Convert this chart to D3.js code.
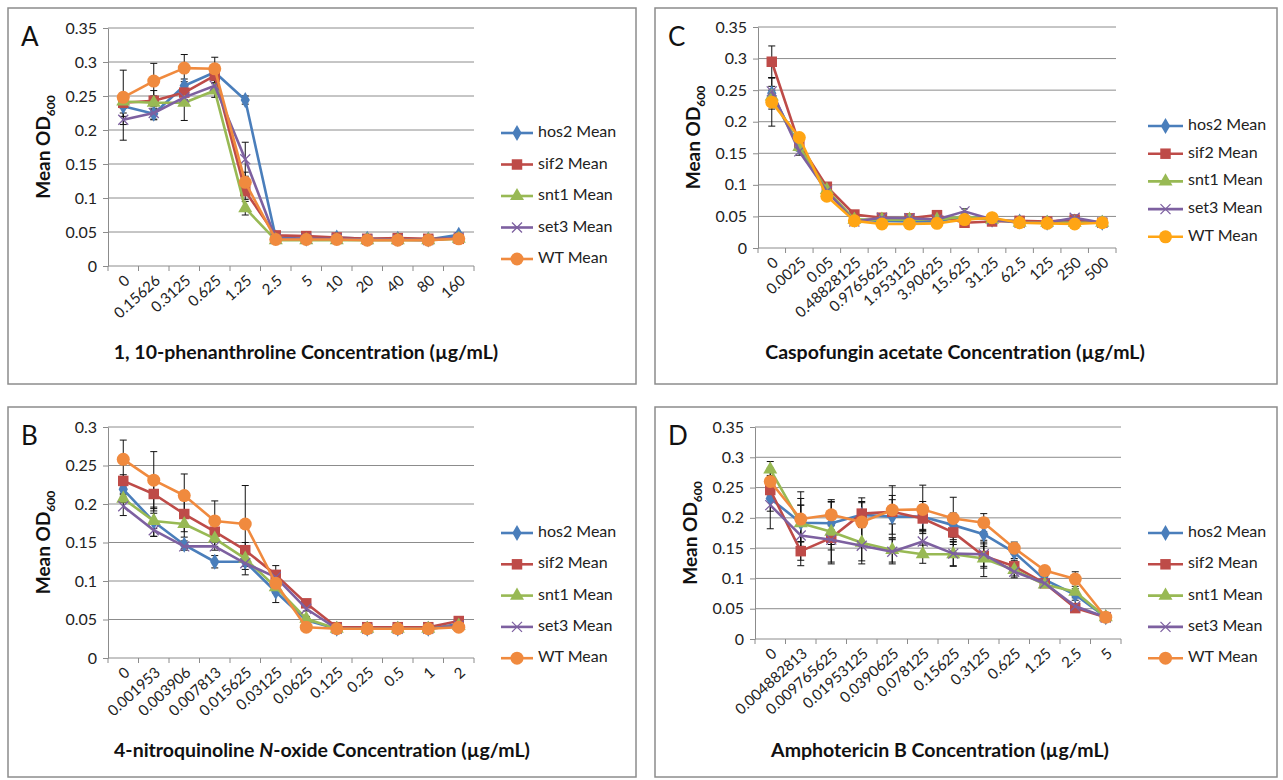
<!DOCTYPE html>
<html>
<head>
<meta charset="utf-8">
<script src="https://cdn.jsdelivr.net/npm/d3@7"></script>
<style>
body { margin: 0; background: #fff; }
svg { font-family: Lato, "Open Sans", sans-serif; font-variant-ligatures: none; }
</style>
</head>
<body>
<script>
// series names and colours
var seriesNames = ["hos2 Mean", "sif2 Mean", "snt1 Mean", "set3 Mean", "WT Mean"];

// A: 1,10-phenanthroline
var catsA = ["0","0.15626","0.3125","0.625","1.25","2.5","5","10","20","40","80","160"];
var hos2A = [0.235,0.224,0.265,0.285,0.244,0.042,0.040,0.042,0.040,0.040,0.039,0.046];
var sif2A = [0.240,0.243,0.255,0.280,0.110,0.045,0.044,0.042,0.040,0.041,0.040,0.040];
var snt1A = [0.242,0.240,0.240,0.258,0.085,0.038,0.038,0.038,0.038,0.038,0.038,0.040];
var set3A = [0.215,0.225,0.248,0.265,0.157,0.040,0.040,0.040,0.039,0.039,0.038,0.042];
var wtA   = [0.248,0.272,0.291,0.290,0.123,0.039,0.039,0.039,0.038,0.038,0.038,0.040];
var errHos2A = [0.015,0.008,0.010,0.008,0.006,0.002,0.002,0.002,0.002,0.002,0.002,0.003];
var errSif2A = [0.015,0.015,0.010,0.010,0.012,0.002,0.002,0.002,0.002,0.002,0.002,0.002];
var errSnt1A = [0.010,0.010,0.026,0.010,0.010,0.002,0.002,0.002,0.002,0.002,0.002,0.002];
var errSet3A = [0.030,0.010,0.010,0.010,0.025,0.002,0.002,0.002,0.002,0.002,0.002,0.002];
var errWtA   = [0.040,0.026,0.020,0.017,0.015,0.002,0.002,0.002,0.002,0.002,0.002,0.002];

// B: 4-nitroquinoline N-oxide
var catsB = ["0","0.001953","0.003906","0.007813","0.015625","0.03125","0.0625","0.125","0.25","0.5","1","2"];
var hos2B = [0.219,0.177,0.147,0.125,0.125,0.086,0.049,0.038,0.038,0.038,0.038,0.044];
var sif2B = [0.230,0.213,0.187,0.164,0.140,0.108,0.071,0.040,0.040,0.040,0.040,0.048];
var snt1B = [0.207,0.178,0.174,0.155,0.129,0.092,0.051,0.038,0.038,0.038,0.038,0.042];
var set3B = [0.197,0.166,0.145,0.145,0.123,0.105,0.064,0.038,0.038,0.038,0.038,0.042];
var wtB   = [0.258,0.231,0.211,0.178,0.174,0.097,0.040,0.038,0.038,0.038,0.038,0.040];
var errHos2B = [0.005,0.019,0.005,0.008,0.010,0.014,0.004,0.002,0.002,0.002,0.002,0.002];
var errSif2B = [0.008,0.022,0.030,0.010,0.010,0.012,0.003,0.002,0.002,0.002,0.002,0.002];
var errSnt1B = [0.005,0.010,0.010,0.010,0.010,0.008,0.003,0.002,0.002,0.002,0.002,0.002];
var errSet3B = [0.012,0.008,0.005,0.005,0.015,0.008,0.003,0.002,0.002,0.002,0.002,0.002];
var errWtB   = [0.025,0.037,0.028,0.026,0.050,0.010,0.003,0.002,0.002,0.002,0.002,0.002];

// C: caspofungin acetate
var catsC = ["0","0.0025","0.05","0.48828125","0.9765625","1.953125","3.90625","15.625","31.25","62.5","125","250","500"];
var hos2C = [0.245,0.160,0.090,0.045,0.043,0.042,0.042,0.050,0.045,0.042,0.040,0.042,0.040];
var sif2C = [0.295,0.165,0.097,0.053,0.048,0.047,0.052,0.040,0.042,0.043,0.042,0.045,0.040];
var snt1C = [0.240,0.160,0.092,0.045,0.045,0.045,0.045,0.050,0.045,0.040,0.040,0.040,0.040];
var set3C = [0.248,0.153,0.090,0.042,0.048,0.047,0.045,0.058,0.045,0.040,0.040,0.048,0.040];
var wtC   = [0.231,0.175,0.082,0.043,0.038,0.038,0.039,0.045,0.048,0.040,0.039,0.038,0.040];
var errHos2C = [0.025,0.006,0.004,0.002,0.002,0.002,0.002,0.003,0.002,0.002,0.002,0.002,0.002];
var errSif2C = [0.025,0.006,0.004,0.002,0.002,0.002,0.002,0.002,0.002,0.002,0.002,0.002,0.002];
var errSnt1C = [0.010,0.006,0.004,0.002,0.002,0.002,0.002,0.002,0.002,0.002,0.002,0.002,0.002];
var errSet3C = [0.008,0.006,0.004,0.002,0.002,0.002,0.002,0.004,0.002,0.002,0.002,0.004,0.002];
var errWtC   = [0.038,0.006,0.004,0.002,0.002,0.002,0.002,0.002,0.002,0.002,0.002,0.002,0.002];

// D: amphotericin B
var catsD = ["0","0.004882813","0.009765625","0.01953125","0.0390625","0.078125","0.15625","0.3125","0.625","1.25","2.5","5"];
var hos2D = [0.232,0.192,0.191,0.205,0.202,0.202,0.188,0.173,0.143,0.098,0.073,0.036];
var sif2D = [0.246,0.145,0.167,0.207,0.210,0.199,0.176,0.137,0.120,0.092,0.051,0.036];
var snt1D = [0.280,0.191,0.177,0.159,0.147,0.140,0.140,0.133,0.114,0.090,0.078,0.036];
var set3D = [0.221,0.171,0.164,0.154,0.144,0.161,0.141,0.140,0.111,0.092,0.054,0.036];
var wtD   = [0.260,0.198,0.205,0.193,0.213,0.214,0.199,0.192,0.150,0.113,0.099,0.036];
var errHos2D = [0.050,0.040,0.035,0.020,0.035,0.025,0.020,0.020,0.010,0.005,0.005,0.002];
var errSif2D = [0.010,0.015,0.020,0.020,0.020,0.020,0.020,0.020,0.010,0.005,0.005,0.002];
var errSnt1D = [0.013,0.030,0.050,0.030,0.020,0.015,0.020,0.030,0.010,0.005,0.005,0.002];
var errSet3D = [0.010,0.050,0.040,0.030,0.020,0.020,0.020,0.020,0.010,0.005,0.010,0.002];
var errWtD   = [0.010,0.045,0.025,0.040,0.040,0.040,0.035,0.015,0.010,0.005,0.012,0.002];

var width = 1283, height = 780;

var svg = d3.select("body")
    .append("svg")
    .attr("width", width)
    .attr("height", height);

var markerTypes = ["diamond", "square", "triangle", "cross", "circle"];

function drawMarker(sel, type, color) {
    if (type == "circle") {
        sel.append("circle").attr("r", 6.5).attr("fill", color);
    } else if (type == "cross") {
        sel.append("path").attr("d", "M-5,-5L5,5M-5,5L5,-5")
            .attr("stroke", color).attr("stroke-width", 1.3).attr("fill", "none");
    } else {
        var sym = type == "diamond" ? d3.symbolDiamond : type == "square" ? d3.symbolSquare : d3.symbolTriangle;
        var size = type == "diamond" ? 75 : type == "square" ? 110 : 85;
        sel.append("path").attr("d", d3.symbol(sym, size)()).attr("fill", color);
    }
}

function drawPanel(p) {
    var g = svg.append("g");

    //panel frame
    g.append("rect")
        .attr("x", p.fx).attr("y", p.fy)
        .attr("width", p.fw).attr("height", p.fh)
        .attr("fill", "#fff").attr("stroke", "#8c8c8c").attr("stroke-width", 1.5);

    var x = d3.scaleBand().domain(p.cats).range([p.px, p.px + p.pw]);
    var y = d3.scaleLinear().domain([0, p.yMax]).range([p.py + p.ph, p.py]);
    var yTicks = d3.range(0, p.yMax + 1e-9, 0.05);
    var cx = function(i) { return x(p.cats[i]) + x.bandwidth() / 2; };

    //gridlines
    g.selectAll(".grid")
        .data(yTicks.slice(1))
        .enter()
        .append("line")
        .attr("x1", p.px).attr("x2", p.px + p.pw)
        .attr("y1", function(d){ return y(d); })
        .attr("y2", function(d){ return y(d); })
        .attr("stroke", "#8c8c8c").attr("stroke-width", 1);

    //y axis
    var yAxis = g.append("g")
        .attr("transform", "translate(" + p.px + ",0)")
        .call(d3.axisLeft(y).tickValues(yTicks).tickSize(5).tickSizeOuter(0).tickPadding(6)
            .tickFormat(function(d){ return String(+d.toFixed(2)); }));
    yAxis.select(".domain").attr("stroke", "#8c8c8c");
    yAxis.selectAll(".tick line").attr("stroke", "#8c8c8c");
    yAxis.selectAll("text").attr("font-size", 16).attr("fill", "#222").attr("font-family", "Lato");

    //x axis line and ticks at category boundaries
    g.append("line")
        .attr("x1", p.px).attr("x2", p.px + p.pw)
        .attr("y1", y(0)).attr("y2", y(0))
        .attr("stroke", "#8c8c8c");
    var bounds = p.cats.map(function(c){ return x(c); }).concat([p.px + p.pw]);
    g.selectAll(".xtick")
        .data(bounds)
        .enter()
        .append("line")
        .attr("x1", function(d){ return d; }).attr("x2", function(d){ return d; })
        .attr("y1", y(0)).attr("y2", y(0) + 5)
        .attr("stroke", "#8c8c8c");
    g.selectAll(".xlab")
        .data(p.cats)
        .enter()
        .append("text")
        .attr("transform", function(d, i){
            return "translate(" + (cx(i) + 5) + "," + (y(0) + 13) + ") rotate(-42)";
        })
        .attr("text-anchor", "end")
        .attr("dominant-baseline", "middle")
        .attr("font-size", 15)
        .attr("fill", "#222")
        .text(function(d){ return d; });

    //error bars
    p.errs.forEach(function(err, s){
        var vals = p.series[s];
        err.forEach(function(e, i){
            var eg = g.append("g").attr("stroke", "#111").attr("stroke-width", 1);
            eg.append("line").attr("x1", cx(i)).attr("x2", cx(i)).attr("y1", y(vals[i] - e)).attr("y2", y(vals[i] + e));
            eg.append("line").attr("x1", cx(i) - 3.5).attr("x2", cx(i) + 3.5).attr("y1", y(vals[i] + e)).attr("y2", y(vals[i] + e));
            eg.append("line").attr("x1", cx(i) - 3.5).attr("x2", cx(i) + 3.5).attr("y1", y(vals[i] - e)).attr("y2", y(vals[i] - e));
        });
    });

    //series lines and markers
    var line = d3.line()
        .x(function(d, i){ return cx(i); })
        .y(function(d){ return y(d); });
    p.series.forEach(function(vals, s){
        g.append("path")
            .datum(vals)
            .attr("d", line)
            .attr("fill", "none")
            .attr("stroke", p.colors[s])
            .attr("stroke-width", 2.6)
            .attr("stroke-linejoin", "round");
        vals.forEach(function(v, i){
            var m = g.append("g").attr("transform", "translate(" + cx(i) + "," + y(v) + ")");
            drawMarker(m, markerTypes[s], p.colors[s]);
        });
    });

    //legend
    seriesNames.forEach(function(name, s){
        var ly = p.ly + s * p.ldy;
        g.append("line")
            .attr("x1", p.lx).attr("x2", p.lx + p.lw)
            .attr("y1", ly).attr("y2", ly)
            .attr("stroke", p.colors[s]).attr("stroke-width", 2.6);
        var m = g.append("g").attr("transform", "translate(" + (p.lx + p.lw / 2) + "," + ly + ")");
        drawMarker(m, markerTypes[s], p.colors[s]);
        g.append("text")
            .attr("x", p.lx + p.lw + 5).attr("y", ly)
            .attr("dominant-baseline", "middle")
            .attr("font-size", 16).attr("fill", "#222")
            .text(name);
    });

    //panel letter
    g.append("text")
        .attr("x", p.fx + 13).attr("y", p.fy + 38)
        .attr("font-size", 26).attr("fill", "#111")
        .text(p.letter);

    //y title
    var yt = g.append("text")
        .attr("transform", "translate(" + (p.px - 58) + "," + (p.py + p.ph / 2) + ") rotate(-90)")
        .attr("text-anchor", "middle")
        .attr("font-size", 19).attr("font-weight", "bold").attr("fill", "#111");
    yt.append("tspan").text("Mean OD");
    yt.append("tspan").attr("font-size", 12).attr("dy", 5).text("600");

    //x title
    var xt = g.append("text")
        .attr("x", p.tx).attr("y", p.ty)
        .attr("text-anchor", "middle")
        .attr("font-size", 19.5).attr("font-weight", "bold").attr("fill", "#111");
    p.xTitle.forEach(function(part){
        xt.append("tspan").attr("font-style", part[1] ? "italic" : null).text(part[0]);
    });
}

var colorsMain = ["#4A7EBB", "#BE4B48", "#98B954", "#7D60A0", "#F08A3E"];
var colorsC = ["#4A7EBB", "#BE4B48", "#98B954", "#7D60A0", "#FFA514"];

drawPanel({
    letter: "A", fx: 8, fy: 8, fw: 628, fh: 376,
    px: 108, py: 28, pw: 366, ph: 238, yMax: 0.35,
    cats: catsA, series: [hos2A, sif2A, snt1A, set3A, wtA],
    errs: [errHos2A, errSif2A, errSnt1A, errSet3A, errWtA],
    colors: colorsMain,
    lx: 501, lw: 32, ly: 133, ldy: 31.5,
    tx: 306, ty: 359, xTitle: [["1, 10-phenanthroline Concentration (\u00b5g/mL)", false]]
});

drawPanel({
    letter: "B", fx: 8, fy: 407, fw: 628, fh: 370,
    px: 108, py: 427, pw: 366, ph: 231, yMax: 0.3,
    cats: catsB, series: [hos2B, sif2B, snt1B, set3B, wtB],
    errs: [errHos2B, errSif2B, errSnt1B, errSet3B, errWtB],
    colors: colorsMain,
    lx: 501, lw: 32, ly: 533, ldy: 31.3,
    tx: 322, ty: 757, xTitle: [["4-nitroquinoline ", false], ["N", true], ["-oxide Concentration (\u00b5g/mL)", false]]
});

drawPanel({
    letter: "C", fx: 655, fy: 8, fw: 622, fh: 376,
    px: 758, py: 27, pw: 358, ph: 221, yMax: 0.35,
    cats: catsC, series: [hos2C, sif2C, snt1C, set3C, wtC],
    errs: [errHos2C, errSif2C, errSnt1C, errSet3C, errWtC],
    colors: colorsC,
    lx: 1148, lw: 35, ly: 126, ldy: 27.7,
    tx: 955, ty: 359, xTitle: [["Caspofungin acetate Concentration (\u00b5g/mL)", false]]
});

drawPanel({
    letter: "D", fx: 655, fy: 407, fw: 622, fh: 370,
    px: 755, py: 427, pw: 366, ph: 212, yMax: 0.35,
    cats: catsD, series: [hos2D, sif2D, snt1D, set3D, wtD],
    errs: [errHos2D, errSif2D, errSnt1D, errSet3D, errWtD],
    colors: colorsMain,
    lx: 1148, lw: 35, ly: 533, ldy: 31.3,
    tx: 940, ty: 757, xTitle: [["Amphotericin B Concentration (\u00b5g/mL)", false]]
});
</script>
</body>
</html>
